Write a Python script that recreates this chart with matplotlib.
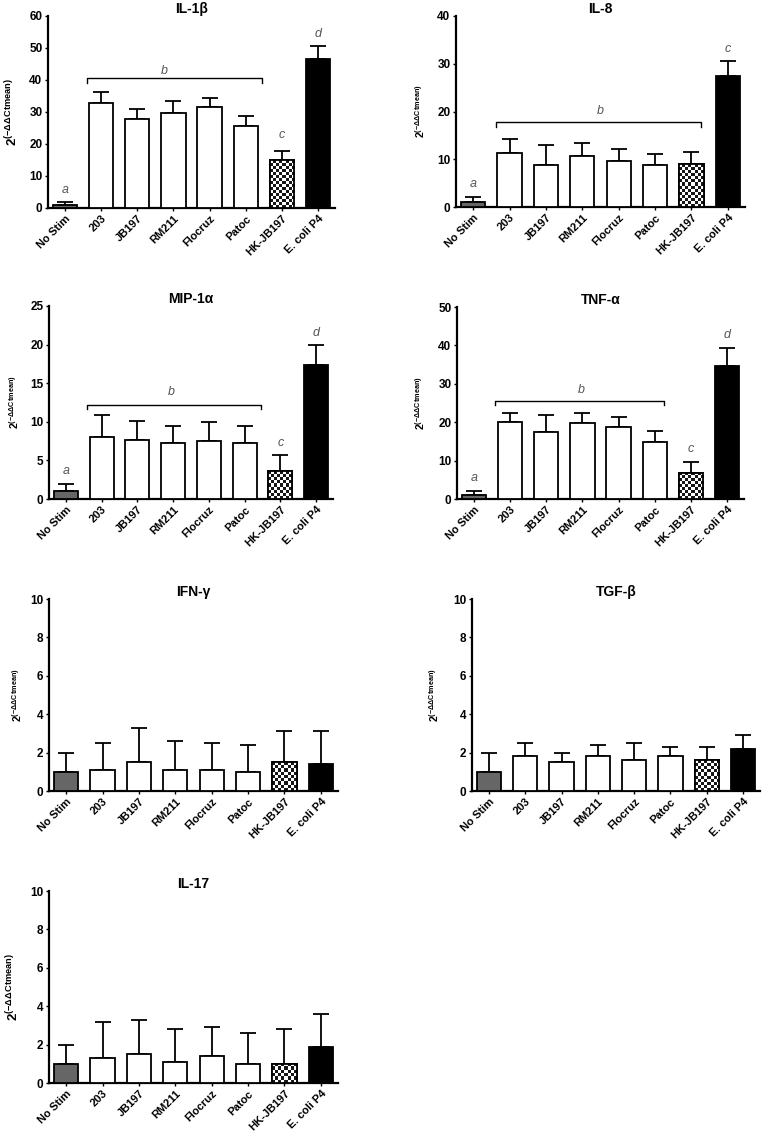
import numpy as np
import matplotlib
matplotlib.use("Agg")
import matplotlib.pyplot as plt

plt.rcParams['font.family'] = ['Liberation Sans', 'DejaVu Sans']
plt.rcParams['font.weight'] = 'bold'
plt.rcParams['mathtext.fontset'] = 'custom'
plt.rcParams['mathtext.rm'] = 'Liberation Sans:bold'
plt.rcParams['mathtext.bf'] = 'Liberation Sans:bold'
plt.rcParams['mathtext.it'] = 'Liberation Sans:bold:italic'

categories = ["No Stim", "203", "JB197", "RM211", "Flocruz", "Patoc", "HK-JB197", "E. coli P4"]

il1b = [1.0, 32.7, 27.8, 29.7, 31.5, 25.6, 14.9, 46.6]
il1b_err = [1.0, 3.5, 3.0, 3.7, 3.0, 3.1, 2.8, 4.0]
il8 = [1.0, 11.3, 8.7, 10.7, 9.7, 8.8, 9.0, 27.5]
il8_err = [1.0, 3.0, 4.2, 2.6, 2.5, 2.4, 2.5, 3.0]
mip1a = [1.0, 8.0, 7.7, 7.2, 7.5, 7.2, 3.6, 17.3]
mip1a_err = [1.0, 2.9, 2.4, 2.3, 2.45, 2.3, 2.15, 2.7]
tnfa = [1.0, 20.1, 17.4, 19.9, 18.7, 14.8, 6.9, 34.7]
tnfa_err = [1.0, 2.3, 4.4, 2.6, 2.6, 3.0, 2.8, 4.5]
ifng = [1.0, 1.1, 1.5, 1.1, 1.1, 1.0, 1.5, 1.4]
ifng_err = [1.0, 1.4, 1.8, 1.5, 1.4, 1.4, 1.6, 1.7]
tgfb = [1.0, 1.8, 1.5, 1.8, 1.6, 1.8, 1.6, 2.2]
tgfb_err = [1.0, 0.7, 0.5, 0.6, 0.9, 0.5, 0.7, 0.7]
il17 = [1.0, 1.3, 1.5, 1.1, 1.4, 1.0, 1.0, 1.9]
il17_err = [1.0, 1.9, 1.8, 1.7, 1.5, 1.6, 1.8, 1.7]

titles = ["IL-1β", "IL-8", "MIP-1α", "TNF-α", "IFN-γ", "TGF-β", "IL-17"]
ymax = [60, 40, 25, 50, 10, 10, 10]
ystep = [10, 10, 5, 10, 2, 2, 2]

# letters: (bar index, letter, y)
letters = [
    [(0, "a", 5.7), (6, "c", 22.7), (7, "d", 54.5)],
    [(0, "a", 4.8), (7, "c", 33.0)],
    [(0, "a", 3.6), (6, "c", 7.2), (7, "d", 21.5)],
    [(0, "a", 5.5), (6, "c", 13.0), (7, "d", 42.6)],
    [], [], [],
]
# bracket: (x0, x1, y, drop, label_x, label_y)
brackets = [
    (0.61, 5.44, 40.7, 1.6, 2.75, 42.7),
    (0.64, 6.25, 17.8, 1.0, 3.5, 20.1),
    (0.60, 5.46, 12.2, 0.6, 2.95, 13.9),
    (0.57, 5.26, 25.5, 1.1, 2.97, 28.5),
    None, None, None,
]

values = [il1b, il8, mip1a, tnfa, ifng, tgfb, il17]
errors = [il1b_err, il8_err, mip1a_err, tnfa_err, ifng_err, tgfb_err, il17_err]

W, H = 765, 1131
# axes pixel boxes: left, top, right, bottom
boxes = [
    (48, 16, 335, 208),
    (456, 16, 745, 207),
    (49, 306, 333, 499),
    (457, 307, 744, 499),
    (49, 599, 338, 791),
    (472, 599, 760, 791),
    (49, 891, 338, 1083),
]
big_label = [True, False, False, False, False, False, True]
label_x = [-0.095, -0.10, -0.099, -0.104, -0.086, -0.108, -0.095]

fig = plt.figure(figsize=(W / 100, H / 100), dpi=100)
fill_colors = ['#666666', 'white', 'white', 'white', 'white', 'white', None, 'black']

for i in range(7):
    l, t, r, b = boxes[i]
    ax = fig.add_axes([l / W, 1 - b / H, (r - l) / W, (b - t) / H])
    x = np.arange(len(categories))
    vals = values[i]
    errs = errors[i]
    ax.set_xlim(-0.47, 7.47)
    ax.set_ylim(0, ymax[i])
    bars = ax.bar(x, vals, width=0.67, edgecolor='black', linewidth=1.3,
                  color=[c if c is not None else 'white' for c in fill_colors], zorder=3)
    ax.errorbar(x, vals, yerr=[np.zeros(len(vals)), errs], fmt='none', ecolor='black',
                elinewidth=1.3, capsize=5.5, capthick=1.3, zorder=2)
    # checkerboard for HK-JB197
    fig.canvas.draw()
    hb = bars[6]
    x0 = hb.get_x(); x1 = x0 + hb.get_width(); h = hb.get_height()
    p0 = ax.transData.transform((x0, 0)); p1 = ax.transData.transform((x1, h))
    ncol = 8
    nrow = max(1, int(round((p1[1] - p0[1]) / ((p1[0] - p0[0]) / ncol))))
    chk = (np.add.outer(np.arange(nrow), np.arange(ncol)) % 2).astype(float)
    im = ax.imshow(chk, cmap='gray', vmin=-0.1, vmax=1, extent=(x0, x1, 0, h), origin='lower',
                   interpolation='nearest', aspect='auto', zorder=3.5)
    im.set_clip_path(hb)
    ax.bar([x[6]], [vals[6]], width=0.67, edgecolor='black', linewidth=1.3,
           color='none', zorder=4)
    ax.set_xlim(-0.47, 7.47)
    ax.set_ylim(0, ymax[i])

    ax.spines['top'].set_visible(False)
    ax.spines['right'].set_visible(False)
    ax.spines['left'].set_linewidth(1.6)
    ax.spines['bottom'].set_linewidth(1.6)
    ax.set_yticks(np.arange(0, ymax[i] + 0.01, ystep[i]))
    ax.set_xticks(x)
    ax.set_xticklabels(categories, rotation=45, ha='right', rotation_mode='anchor',
                       fontsize=8, fontweight='bold')
    ax.tick_params(axis='both', direction='out', length=2.5, width=1.0, pad=1.5)
    for lab in ax.get_yticklabels():
        lab.set_fontsize(8.5); lab.set_fontweight('bold')
    ax.set_title(titles[i], fontsize=10, fontweight='bold', pad=2)
    if big_label[i]:
        ax.set_ylabel(r'$\mathbf{2^{(-\Delta\Delta Ctmean)}}$', fontsize=9.5)
    else:
        ax.set_ylabel(r'$\mathbf{2^{(-\Delta\Delta Ctmean)}}$', fontsize=7.5)
    ax.yaxis.set_label_coords(label_x[i], 0.5)

    for (bi, letter, ly) in letters[i]:
        ax.text(bi, ly, letter, ha='center', va='center', fontsize=9,
                fontstyle='italic', fontweight='normal', color='#555555')
    br = brackets[i]
    if br is not None:
        bx0, bx1, by, drop, lx, lyy = br
        ax.plot([bx0, bx0, bx1, bx1], [by - drop, by, by, by - drop], color='black',
                lw=1.0, zorder=5, clip_on=False)
        ax.text(lx, lyy, "b", ha='center', va='center', fontsize=9,
                fontstyle='italic', fontweight='normal', color='#555555')

fig.savefig("out.png", dpi=100)
